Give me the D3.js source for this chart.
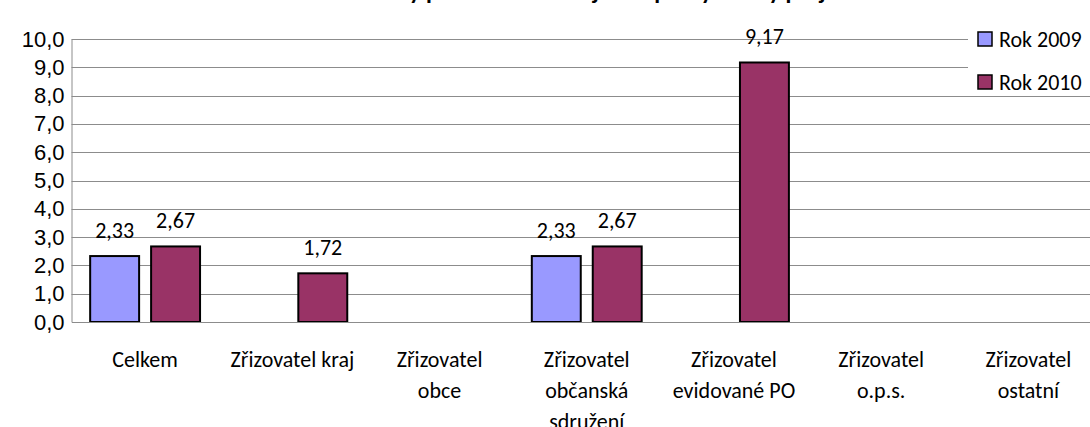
<!DOCTYPE html>
<html>
<head>
<meta charset="utf-8">
<script src="https://cdn.jsdelivr.net/npm/d3@7"></script>
<style>
  body { margin: 0; background: #fff; }
  svg { display: block; font-family: Carlito, Calibri, "Open Sans", sans-serif; }
</style>
</head>
<body>
<div id="wrap"></div>
<script>
// data
const categories = ["Celkem", "Zřizovatel kraj", "Zřizovatel\nobce", "Zřizovatel\nobčanská\nsdružení",
  "Zřizovatel\nevidované PO", "Zřizovatel\no.p.s.", "Zřizovatel\nostatní"];
const series = ["Rok 2009", "Rok 2010"];
const values2009 = [2.33, null, null, 2.33, null, null, null];
const values2010 = [2.67, 1.72, null, 2.67, 9.17, null, null];
const yTicks = [0, 1, 2, 3, 4, 5, 6, 7, 8, 9, 10];
const title = "Průměrný počet úvazků na jeden poskytovaný projekt";

const colors = ["#9999ff", "#993366"];
const width = 1090;
const height = 427;
const margin = { top: 39, right: -12, bottom: 105, left: 71.5 };
const fs = 22;

let svg = d3.select("#wrap")
  .append("svg")
  .attr("width", width)
  .attr("height", height);

const x0 = d3.scaleBand()
  .domain(categories)
  .range([margin.left, width - margin.right])
  .paddingInner(0.24)
  .paddingOuter(0.12);
const x1 = d3.scaleBand()
  .domain(series)
  .range([0, x0.bandwidth()])
  .paddingInner(0.164);
const y = d3.scaleLinear()
  .domain([0, 10])
  .range([height - margin.bottom, margin.top]);

const fmt = d => d3.format(".1f")(d).replace(".", ",");
const fmt2 = d => d3.format(".2f")(d).replace(".", ",");

// title (mostly off the top edge, as in the original)
svg.append("text")
  .attr("x", 590)
  .attr("y", -1)
  .attr("text-anchor", "middle")
  .attr("font-size", 24)
  .attr("font-weight", "bold")
  .text(title);

// gridlines
svg.append("g")
  .selectAll("line")
  .data(yTicks.slice(1))
  .enter()
  .append("line")
  .attr("x1", margin.left)
  .attr("x2", width)
  .attr("y1", d => Math.round(y(d)) + 0.5)
  .attr("y2", d => Math.round(y(d)) + 0.5)
  .attr("stroke", "#8c8c8c")
  .attr("stroke-width", 1);

// y axis
const yAxis = d3.axisLeft(y).tickValues(yTicks).tickFormat(fmt).tickSize(0).tickPadding(7);
const gY = svg.append("g").attr("transform", `translate(${margin.left},0)`);
yAxis(gY);
gY.select(".domain").attr("stroke", "#8c8c8c");
gY.selectAll("text").attr("font-size", fs).attr("fill", "#000").attr("font-family", null);

// bars
const rows = categories.map((c, i) => ({ cat: c, vals: [values2009[i], values2010[i]] }));
const groups = svg.append("g")
  .selectAll("g")
  .data(rows)
  .enter()
  .append("g")
  .attr("transform", d => `translate(${x0(d.cat)},0)`);

const cells = groups.selectAll("g")
  .data(d => d.vals.map((v, j) => ({ s: series[j], v: v, j: j })).filter(e => e.v !== null))
  .enter()
  .append("g");

cells.append("rect")
  .attr("x", d => x1(d.s) + 1)
  .attr("y", d => y(d.v))
  .attr("width", x1.bandwidth() - 2)
  .attr("height", d => y(0) - y(d.v))
  .attr("fill", d => colors[d.j])
  .attr("stroke", "#000")
  .attr("stroke-width", 2);

cells.append("text")
  .attr("x", d => x1(d.s) + x1.bandwidth() / 2)
  .attr("y", d => y(d.v) - 18)
  .attr("text-anchor", "middle")
  .attr("font-size", fs)
  .text(d => fmt2(d.v));

// x axis
const xAxis = d3.axisBottom(x0).tickSize(0).tickFormat("");
const gX = svg.append("g").attr("transform", `translate(0,${y(0)})`);
xAxis(gX);
gX.select(".domain").attr("stroke", "#8c8c8c");

const labels = svg.append("g")
  .selectAll("text")
  .data(categories)
  .enter()
  .append("text")
  .attr("text-anchor", "middle")
  .attr("font-size", fs)
  .attr("transform", d => `translate(${x0(d) + x0.bandwidth() / 2},${y(0) + 45})`);
labels.selectAll("tspan")
  .data(d => d.split("\n"))
  .enter()
  .append("tspan")
  .attr("x", 0)
  .attr("dy", (d, i) => i === 0 ? 0 : 31)
  .text(d => d);

// legend
const lg = svg.append("g").attr("transform", "translate(968,25)");
lg.append("rect")
  .attr("width", 130)
  .attr("height", 64)
  .attr("fill", "#fff");
const items = lg.selectAll("g")
  .data(series)
  .enter()
  .append("g")
  .attr("transform", (d, i) => `translate(10,${7 + i * 43})`);
items.append("rect")
  .attr("width", 14)
  .attr("height", 14)
  .attr("fill", (d, i) => colors[i])
  .attr("stroke", "#000")
  .attr("stroke-width", 1.5);
items.append("text")
  .attr("x", 21)
  .attr("y", 15)
  .attr("font-size", fs)
  .text(d => d);
</script>
</body>
</html>
